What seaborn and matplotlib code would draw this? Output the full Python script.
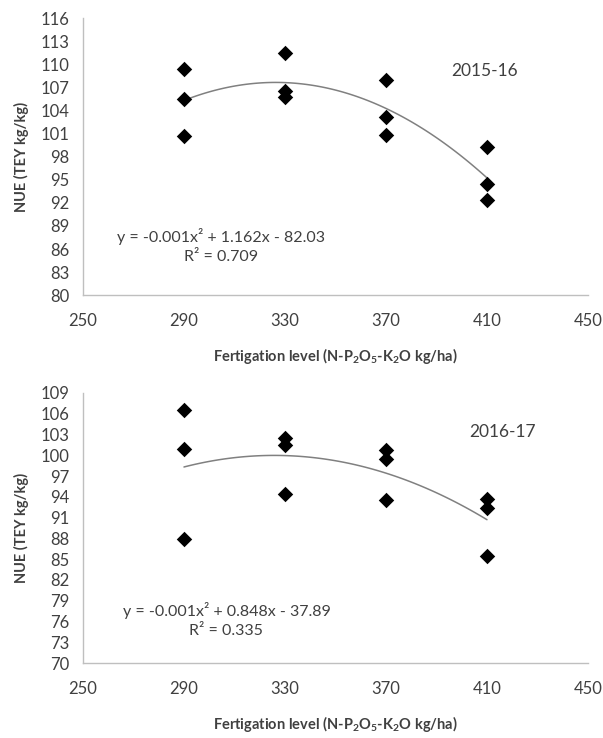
import numpy as np
import pandas as pd
import matplotlib
matplotlib.use("Agg")
import matplotlib.pyplot as plt
import seaborn as sns

sns.set_style("white")
plt.rcParams['font.family'] = ['Lato', 'DejaVu Sans']
plt.rcParams['mathtext.fontset'] = 'custom'
plt.rcParams['mathtext.rm'] = 'Lato'
plt.rcParams['mathtext.bf'] = 'Lato:bold'

# Data
levels = [290, 290, 290, 330, 330, 330, 370, 370, 370, 410, 410, 410]
nue_2015 = [109.4, 105.5, 100.7, 111.4, 106.5, 105.8, 107.9, 103.2, 100.8, 99.2, 94.5, 92.3]
nue_2016 = [106.6, 100.9, 87.9, 102.5, 101.5, 94.4, 100.7, 99.4, 93.6, 93.7, 92.4, 85.5]
x_ticks = [250, 290, 330, 370, 410, 450]
y_ticks_2015 = list(range(80, 117, 3))
y_ticks_2016 = list(range(70, 110, 3))
season_labels = ["2015-16", "2016-17"]
equations = ["y = -0.001x² + 1.162x - 82.03", "y = -0.001x² + 0.848x - 37.89"]
r2_labels = ["R² = 0.709", "R² = 0.335"]

txt = '#404040'
fig = plt.figure(figsize=(6.03, 7.38), dpi=100)
ax1 = fig.add_axes([0.1376, 0.600, 0.8375, 0.3756])
ax2 = fig.add_axes([0.1376, 0.1016, 0.8375, 0.366])

panels = [
    (ax1, nue_2015, y_ticks_2015, season_labels[0], equations[0], r2_labels[0],
     (0.796, 0.81), (0.273, 0.21), (0.273, 0.137)),
    (ax2, nue_2016, y_ticks_2016, season_labels[1], equations[1], r2_labels[1],
     (0.83, 0.855), (0.285, 0.196), (0.283, 0.119)),
]

for ax, vals, yt, season, eq, r2, spos, epos, rpos in panels:
    df = pd.DataFrame({'level': levels, 'nue': vals})
    sns.regplot(data=df, x='level', y='nue', order=2, ci=None, ax=ax,
                marker='D',
                scatter_kws=dict(s=62, color='black', edgecolor='black', linewidths=0, alpha=1, zorder=3),
                line_kws=dict(color='#808080', lw=1.1, zorder=2))
    ax.set_xlim(250, 450)
    ax.set_ylim(yt[0], yt[-1])
    ax.set_xticks(x_ticks)
    ax.set_yticks(yt)
    ax.tick_params(axis='both', length=0, labelsize=12, colors=txt)
    ax.tick_params(axis='y', pad=10)
    ax.tick_params(axis='x', pad=13)
    for s in ['top', 'right']:
        ax.spines[s].set_visible(False)
    for s in ['left', 'bottom']:
        ax.spines[s].set_color('#bfbfbf')
        ax.spines[s].set_linewidth(1.0)
    ax.set_ylabel('NUE (TEY kg/kg)', fontsize=10.5, fontweight='bold', color=txt, labelpad=8)
    ax.set_xlabel(r'Fertigation level (N-P$\mathbf{_2}$O$\mathbf{_5}$-K$\mathbf{_2}$O kg/ha)',
                  fontsize=10.5, fontweight='bold', color=txt, labelpad=12)
    ax.text(spos[0], spos[1], season, transform=ax.transAxes, ha='center', va='center',
            fontsize=12.5, color=txt)
    ax.text(epos[0], epos[1], eq, transform=ax.transAxes, ha='center', va='center',
            fontsize=11.5, color=txt)
    ax.text(rpos[0], rpos[1], r2, transform=ax.transAxes, ha='center', va='center',
            fontsize=11.5, color=txt)

fig.savefig('out.png', dpi=100)
